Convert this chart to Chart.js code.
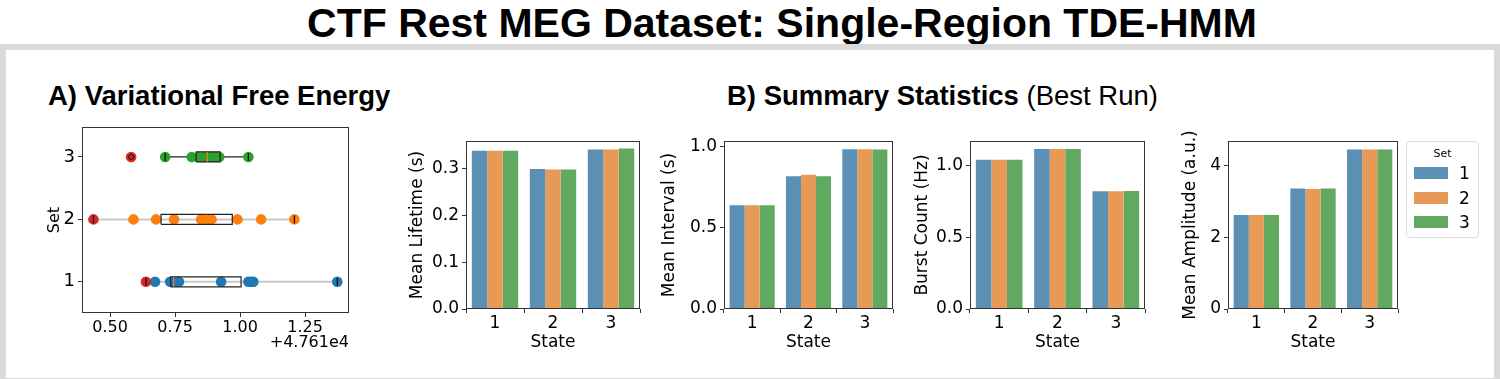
<!DOCTYPE html>
<html>
<head>
<meta charset="utf-8">
<script src="https://cdn.jsdelivr.net/npm/chart.js@4.4.1/dist/chart.umd.min.js"></script>
<style>
  body { margin: 0; width: 1500px; height: 379px; background: #fff; position: relative; overflow: hidden; }
  .title { position: absolute; left: 0; width: 1564px; top: 0; text-align: center; font: bold 41px "Liberation Sans", Arial, sans-serif; line-height: 46px; color: #000; }
  .frame { position: absolute; left: 0; top: 44px; width: 1500px; height: 340px; border: 6px solid #d9d9d9; box-sizing: border-box; }
  .panel-title { position: absolute; top: 80px; font: bold 27.5px "Liberation Sans", Arial, sans-serif; line-height: 32px; white-space: nowrap; color: #000; }
  .panel-title span { font-weight: normal; }
  canvas { position: absolute; }
  .offset { position: absolute; font: 16px "DejaVu Sans", sans-serif; color: #000; text-align: right; }
  .legend { position: absolute; left: 1406px; top: 141px; width: 73px; height: 97px; border: 1px solid #dcdcdc; border-radius: 4px; box-sizing: border-box; font-family: "DejaVu Sans", sans-serif; }
  .legend .lt { position: absolute; left: 0; width: 100%; top: 5px; text-align: center; font-size: 11px; }
  .legend .sw { position: absolute; left: 7px; width: 34px; height: 12px; }
  .legend .lb { position: absolute; left: 52px; font-size: 17px; line-height: 20px; }
</style>
</head>
<body>
<div class="title">CTF Rest MEG Dataset: Single-Region TDE-HMM</div>
<div class="frame"></div>
<div class="panel-title" style="left:48px">A) Variational Free Energy</div>
<div class="panel-title" style="left:727px">B) Summary Statistics <span>(Best Run)</span></div>

<canvas id="feChart"></canvas>
<div class="offset" id="feOffset" style="left:249px; top:332px; width:100px;"></div>
<canvas id="lifetimeChart"></canvas>
<canvas id="intervalChart"></canvas>
<canvas id="burstChart"></canvas>
<canvas id="amplitudeChart"></canvas>
<div class="legend" id="legend"></div>

<script>
// ---- Panel A data (free energy, shown relative to the offset) ----
const feSets = [1, 2, 3];
const set1Runs = [0.673, 0.731, 0.745, 0.765, 0.927, 1.032, 1.042, 1.051, 1.374];
const set2Runs = [0.590, 0.677, 0.746, 0.850, 0.870, 0.890, 0.990, 1.081, 1.209];
const set3Runs = [0.712, 0.814, 0.840, 0.860, 0.875, 0.890, 0.905, 0.920, 1.032];
const bestRun = [0.638, 0.436, 0.581];
const boxQ1 = [0.733, 0.696, 0.831];
const boxMedian = [0.745, 0.870, 0.874];
const boxQ3 = [1.004, 0.970, 0.923];
const whiskerLow = [0.638, 0.436, 0.712];
const whiskerHigh = [1.374, 1.209, 1.032];
const feOutliers = [{ set: 3, value: 0.581 }];
const feXTicks = [0.5, 0.75, 1.0, 1.25];
const feYTicks = [1, 2, 3];
const feOffsetText = '+4.761e4';

// ---- Panel B data ----
const states = ['1', '2', '3'];
const setLabels = ['1', '2', '3'];
const lifetimeSet1 = [0.339, 0.300, 0.342];
const lifetimeSet2 = [0.339, 0.299, 0.342];
const lifetimeSet3 = [0.339, 0.299, 0.344];
const intervalSet1 = [0.640, 0.819, 0.986];
const intervalSet2 = [0.640, 0.829, 0.986];
const intervalSet3 = [0.640, 0.819, 0.984];
const burstSet1 = [1.042, 1.116, 0.821];
const burstSet2 = [1.042, 1.116, 0.821];
const burstSet3 = [1.042, 1.116, 0.823];
const amplitudeSet1 = [2.623, 3.367, 4.456];
const amplitudeSet2 = [2.623, 3.349, 4.456];
const amplitudeSet3 = [2.623, 3.367, 4.456];
const lifetimeTicks = [0, 0.1, 0.2, 0.3];
const intervalTicks = [0, 0.5, 1.0];
const burstTicks = [0, 0.5, 1.0];
const amplitudeTicks = [0, 2, 4];

const pointColors = ['#1f77b4', '#ff7f0e', '#2ca02c'];
const bestColor = '#d62728';
const barColors = ['#5b90b4', '#e79a56', '#61a861'];
const spine = '#333333';
const FONT = "'DejaVu Sans', sans-serif";
const FS = 17;

// draws all four spines like matplotlib
const framePlugin = {
  id: 'frame',
  afterDatasetsDraw(chart) {
    const { ctx, chartArea: a } = chart;
    ctx.save();
    ctx.strokeStyle = spine;
    ctx.lineWidth = 1;
    ctx.strokeRect(Math.round(a.left) + 0.5, Math.round(a.top) + 0.5,
      Math.round(a.right - a.left) - 1, Math.round(a.bottom - a.top) - 1);
    ctx.restore();
  }
};

// size/position a canvas so that its plot area lands on the given box
function placeCanvas(canvas, plot, L, T, R, B) {
  canvas.width = plot.w + L + R;
  canvas.height = plot.h + T + B;
  canvas.style.left = (plot.x - L) + 'px';
  canvas.style.top = (plot.y - T) + 'px';
}

function tickGrid() {
  return { display: true, drawOnChartArea: false, drawTicks: true, tickLength: 4, color: spine, lineWidth: 1 };
}

// ---------------- Panel A ----------------
const feCanvas = document.getElementById('feChart');
const fe = { L: 37, T: 20, R: 20, B: 30 };
placeCanvas(feCanvas, { x: 82, y: 127, w: 267, h: 186 }, fe.L, fe.T, fe.R, fe.B);
document.getElementById('feOffset').textContent = feOffsetText;

const runsBySet = [set1Runs, set2Runs, set3Runs];
const boxHalf = 0.08;
const feDatasets = [];

feSets.forEach((s, i) => {
  // range line behind the points
  feDatasets.push({
    data: [{ x: whiskerLow[i], y: s }, { x: whiskerHigh[i], y: s }],
    showLine: true, borderColor: s === 3 ? '#222' : '#c8c8c8', borderWidth: s === 3 ? 1.3 : 2,
    pointRadius: 0, order: 6
  });
  feDatasets.push({
    data: runsBySet[i].map(v => ({ x: v, y: s })),
    backgroundColor: pointColors[i], borderColor: pointColors[i], borderWidth: 0,
    pointRadius: 5.3, order: 4
  });
  // box outline
  feDatasets.push({
    data: [
      { x: boxQ1[i], y: s - boxHalf }, { x: boxQ3[i], y: s - boxHalf },
      { x: boxQ3[i], y: s + boxHalf }, { x: boxQ1[i], y: s + boxHalf },
      { x: boxQ1[i], y: s - boxHalf }
    ],
    showLine: true, borderColor: '#222', borderWidth: 1.2, pointRadius: 0, order: 2
  });
  feDatasets.push({
    data: [{ x: boxMedian[i], y: s - boxHalf }, { x: boxMedian[i], y: s + boxHalf }],
    showLine: true, borderColor: '#ff7f0e', borderWidth: 1.2, pointRadius: 0, order: 1
  });
});
feDatasets.push({
  data: bestRun.map((v, i) => ({ x: v, y: feSets[i] })),
  backgroundColor: bestColor, borderColor: bestColor, borderWidth: 0, pointRadius: 5.3, order: 3
});
// whisker caps
feDatasets.push({
  data: feSets.flatMap((s, i) => [{ x: whiskerLow[i], y: s }, { x: whiskerHigh[i], y: s }]),
  pointStyle: 'line', rotation: 90, pointRadius: 4, borderColor: '#111', borderWidth: 1.3, order: 0
});
// fliers
feDatasets.push({
  data: feOutliers.map(o => ({ x: o.value, y: o.set })),
  pointStyle: 'circle', pointRadius: 2.5, backgroundColor: 'rgba(0,0,0,0)', borderColor: '#111', borderWidth: 1, order: 0
});

new Chart(feCanvas, {
  type: 'scatter',
  data: { datasets: feDatasets },
  options: {
    responsive: false, animation: false, events: [],
    layout: { padding: { top: fe.T, right: fe.R, left: 0, bottom: 0 } },
    plugins: { legend: { display: false }, tooltip: { enabled: false } },
    scales: {
      x: {
        type: 'linear', min: 0.392, max: 1.419,
        afterBuildTicks: sc => { sc.ticks = feXTicks.map(v => ({ value: v })); },
        afterFit: sc => { sc.height = fe.B; },
        ticks: { color: '#000', font: { family: FONT, size: 16 }, padding: 1, callback: v => v.toFixed(2) },
        grid: tickGrid(), border: { display: false }
      },
      y: {
        type: 'linear', min: 0.5, max: 3.48,
        afterBuildTicks: sc => { sc.ticks = feYTicks.map(v => ({ value: v })); },
        afterFit: sc => { sc.width = fe.L; },
        ticks: { color: '#000', font: { family: FONT, size: 18 }, padding: 3, callback: v => String(v) },
        grid: tickGrid(), border: { display: false },
        title: { display: true, text: 'Set', color: '#000', font: { family: FONT, size: 16 }, padding: 0 }
      }
    }
  },
  plugins: [framePlugin]
});

// ---------------- Panel B ----------------
function makeBarChart(id, plot, L, series, yMax, yTicks, decimals, yLabel) {
  const canvas = document.getElementById(id);
  const T = 20, R = 10, B = 44;
  placeCanvas(canvas, plot, L, T, R, B);
  return new Chart(canvas, {
    type: 'bar',
    data: {
      labels: states,
      datasets: series.map((vals, i) => ({
        label: setLabels[i], data: vals, backgroundColor: barColors[i],
        borderWidth: 0, categoryPercentage: 0.8, barPercentage: 1.0
      }))
    },
    options: {
      responsive: false, animation: false, events: [],
      layout: { padding: { top: T, right: R, left: 0, bottom: 0 } },
      plugins: { legend: { display: false }, tooltip: { enabled: false } },
      scales: {
        x: {
          afterFit: sc => { sc.height = B; },
          ticks: { color: '#000', font: { family: FONT, size: FS }, padding: 0 },
          grid: tickGrid(), border: { display: false },
          title: { display: true, text: 'State', color: '#000', font: { family: FONT, size: FS }, padding: 0 }
        },
        y: {
          min: 0, max: yMax,
          afterBuildTicks: sc => { sc.ticks = yTicks.map(v => ({ value: v })); },
          afterFit: sc => { sc.width = L; },
          ticks: { color: '#000', font: { family: FONT, size: FS }, padding: 3, callback: v => v.toFixed(decimals) },
          grid: tickGrid(), border: { display: false },
          title: { display: true, text: yLabel, color: '#000', font: { family: FONT, size: FS }, padding: 0 }
        }
      }
    },
    plugins: [framePlugin]
  });
}

makeBarChart('lifetimeChart', { x: 466, y: 141, w: 174, h: 168 }, 59,
  [lifetimeSet1, lifetimeSet2, lifetimeSet3], 0.36, lifetimeTicks, 1, 'Mean Lifetime (s)');
makeBarChart('intervalChart', { x: 724, y: 141, w: 169, h: 168 }, 65,
  [intervalSet1, intervalSet2, intervalSet3], 1.037, intervalTicks, 1, 'Mean Interval (s)');
makeBarChart('burstChart', { x: 970, y: 141, w: 175, h: 168 }, 58,
  [burstSet1, burstSet2, burstSet3], 1.172, burstTicks, 1, 'Burst Count (Hz)');
makeBarChart('amplitudeChart', { x: 1228, y: 141, w: 170, h: 168 }, 48,
  [amplitudeSet1, amplitudeSet2, amplitudeSet3], 4.69, amplitudeTicks, 0, 'Mean Amplitude (a.u.)');

// legend for the bar panels
const legend = document.getElementById('legend');
legend.innerHTML = '<div class="lt">Set</div>';
setLabels.forEach((lab, i) => {
  const y = 25 + i * 24.5;
  legend.innerHTML += `<div class="sw" style="top:${y}px;background:${barColors[i]}"></div>` +
    `<div class="lb" style="top:${y - 4}px">${lab}</div>`;
});
</script>
</body>
</html>
